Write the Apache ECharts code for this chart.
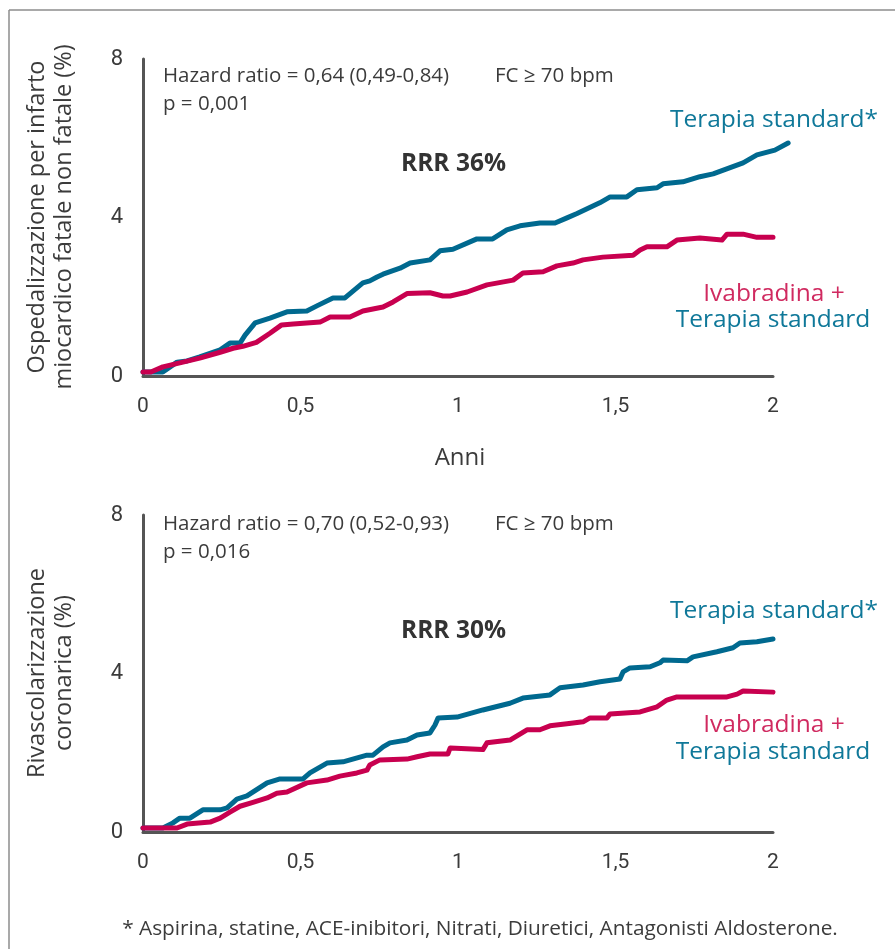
<!DOCTYPE html>
<html>
<head>
<meta charset="utf-8">
<script src="https://cdn.jsdelivr.net/npm/echarts@6/dist/echarts.min.js"></script>
<style>
html,body{margin:0;padding:0;background:#fff;}
#chart{width:895px;height:949px;}
</style>
</head>
<body>
<div id="chart"></div>
<script>
// ---- Data ----
const xTicks = [0, 0.5, 1, 1.5, 2];
const yTicks = [0, 4, 8];

// Panel 1: hospitalisation for fatal / non-fatal MI (%)
const infartoStandard = [[0,0.1],[0.063,0.1],[0.108,0.35],[0.14,0.38],[0.18,0.48],[0.245,0.66],[0.276,0.83],[0.308,0.83],[0.324,1.03],[0.356,1.34],[0.403,1.46],[0.457,1.62],[0.52,1.64],[0.552,1.77],[0.603,1.97],[0.641,1.97],[0.698,2.35],[0.72,2.4],[0.743,2.5],[0.762,2.57],[0.816,2.72],[0.848,2.85],[0.911,2.93],[0.943,3.16],[0.984,3.2],[1.06,3.46],[1.11,3.46],[1.155,3.69],[1.197,3.79],[1.26,3.86],[1.308,3.86],[1.346,3.99],[1.378,4.1],[1.45,4.37],[1.483,4.52],[1.536,4.52],[1.568,4.7],[1.632,4.75],[1.651,4.85],[1.714,4.9],[1.768,5.03],[1.81,5.1],[1.905,5.38],[1.949,5.58],[2.006,5.7],[2.048,5.88]];
const infartoIvabradina = [[0,0.1],[0.025,0.1],[0.063,0.23],[0.127,0.35],[0.18,0.45],[0.245,0.6],[0.286,0.7],[0.317,0.75],[0.36,0.85],[0.403,1.08],[0.44,1.29],[0.477,1.31],[0.562,1.36],[0.594,1.49],[0.657,1.49],[0.698,1.64],[0.762,1.74],[0.794,1.87],[0.838,2.08],[0.911,2.1],[0.952,2.02],[0.975,2.02],[1.029,2.12],[1.092,2.3],[1.175,2.42],[1.206,2.6],[1.27,2.63],[1.314,2.78],[1.365,2.85],[1.397,2.93],[1.46,3.0],[1.556,3.05],[1.578,3.18],[1.6,3.26],[1.663,3.26],[1.695,3.43],[1.768,3.48],[1.838,3.43],[1.854,3.58],[1.905,3.58],[1.949,3.5],[2.0,3.5]];

// Panel 2: coronary revascularisation (%)
const rivascStandard = [[0,0.1],[0.063,0.1],[0.095,0.23],[0.117,0.35],[0.149,0.35],[0.19,0.56],[0.245,0.56],[0.267,0.61],[0.298,0.83],[0.33,0.91],[0.394,1.24],[0.435,1.34],[0.508,1.34],[0.53,1.49],[0.584,1.74],[0.635,1.77],[0.711,1.94],[0.73,1.94],[0.762,2.15],[0.784,2.25],[0.838,2.32],[0.87,2.45],[0.911,2.5],[0.927,2.7],[0.937,2.88],[0.997,2.9],[1.079,3.08],[1.165,3.25],[1.206,3.38],[1.292,3.46],[1.324,3.64],[1.397,3.71],[1.451,3.79],[1.514,3.86],[1.524,4.04],[1.546,4.14],[1.61,4.17],[1.641,4.27],[1.651,4.34],[1.727,4.32],[1.746,4.42],[1.822,4.55],[1.873,4.65],[1.895,4.77],[1.949,4.8],[2.0,4.87]];
const rivascIvabradina = [[0,0.1],[0.108,0.1],[0.14,0.2],[0.213,0.25],[0.245,0.35],[0.276,0.5],[0.308,0.65],[0.349,0.75],[0.394,0.86],[0.425,0.98],[0.457,1.01],[0.52,1.24],[0.584,1.31],[0.625,1.41],[0.679,1.49],[0.711,1.56],[0.72,1.69],[0.752,1.82],[0.838,1.84],[0.87,1.9],[0.911,1.97],[0.968,1.97],[0.975,2.12],[1.079,2.08],[1.092,2.25],[1.165,2.32],[1.219,2.58],[1.26,2.58],[1.292,2.68],[1.346,2.73],[1.397,2.78],[1.419,2.88],[1.473,2.88],[1.483,2.98],[1.578,3.03],[1.632,3.16],[1.663,3.33],[1.695,3.41],[1.778,3.41],[1.854,3.41],[1.886,3.48],[1.905,3.56],[2.0,3.53]];

const panel1Texts = {hr:'Hazard ratio = 0,64 (0,49-0,84)', p:'p = 0,001', rrr:'RRR 36%', yTitle:'Ospedalizzazione per infarto\nmiocardico fatale non fatale (%)'};
const panel2Texts = {hr:'Hazard ratio = 0,70 (0,52-0,93)', p:'p = 0,016', rrr:'RRR 30%', yTitle:'Rivascolarizzazione\ncoronarica (%)'};
const fcText = 'FC ≥ 70 bpm';
const labelStandardStar = 'Terapia standard*';
const labelIva = 'Ivabradina +';
const labelStandard = 'Terapia standard';
const xTitle = 'Anni';
const footnote = '* Aspirina, statine, ACE-inibitori, Nitrati, Diuretici, Antagonisti Aldosterone.';

// ---- Styling ----
const FONT = 'Roboto, "DejaVu Sans", sans-serif';
const TFONT = '"Open Sans", Roboto, sans-serif';
const DARK = '#3b3b3b';
const AXIS = '#555555';
const BLUE = '#00698f';
const PINK = '#c8004f';
const BLUE_T = '#0f7899';
const PINK_T = '#d02a60';

const chart = echarts.init(document.getElementById('chart'), null, {renderer:'canvas'});

function xAxisCfg(gi){
  return {
    type:'value', gridIndex:gi, min:xTicks[0], max:xTicks[xTicks.length-1], interval:0.5,
    axisLine:{show:true, onZero:false, lineStyle:{color:AXIS, width:3}},
    axisTick:{show:false}, splitLine:{show:false},
    axisLabel:{color:DARK, fontSize:21, fontFamily:FONT, margin:20,
      formatter:v => String(v).replace('.', ',')}
  };
}
function yAxisCfg(gi){
  return {
    type:'value', gridIndex:gi, min:yTicks[0], max:yTicks[yTicks.length-1], interval:4,
    axisLine:{show:true, lineStyle:{color:AXIS, width:3}},
    axisTick:{show:false}, splitLine:{show:false},
    axisLabel:{color:DARK, fontSize:22, fontFamily:FONT, margin:20}
  };
}
// overlay axes (hidden) spanning slightly beyond 2 years so the lines are not cut
const OVER_MAX = 2.1;
function xOverlay(gi){
  return {type:'value', gridIndex:gi, min:0, max:OVER_MAX, show:false, splitLine:{show:false}};
}
function yOverlay(gi){
  return {type:'value', gridIndex:gi, min:yTicks[0], max:yTicks[yTicks.length-1], show:false, splitLine:{show:false}};
}
function lineSeries(data, color, gi){
  return {
    type:'line', xAxisIndex:gi, yAxisIndex:gi, data:data, showSymbol:false, symbol:'none',
    clip:false, animation:false,
    lineStyle:{color:color, width:5, cap:'round', join:'round'}
  };
}
function txt(x, y, text, opts){
  return {type:'text', x:x, y:y, silent:true, style:Object.assign({
    text:text, fill:DARK, fontSize:20.5, fontFamily:TFONT, align:'left', verticalAlign:'middle'
  }, opts||{})};
}
const LBL = {fontSize:24.5, align:'center'};
const RRR = {fontSize:24.5, fontWeight:'bold', fill:'#333'};

const g = [
  // frame
  {type:'line', shape:{x1:9, y1:10, x2:895, y2:10}, style:{stroke:'#8c8c8c', lineWidth:1.5}},
  {type:'line', shape:{x1:9, y1:10, x2:9, y2:949}, style:{stroke:'#8c8c8c', lineWidth:1.5}},
  // panel 1
  txt(163, 76, panel1Texts.hr),
  txt(495, 76, fcText),
  txt(163, 104, panel1Texts.p),
  txt(401, 164, panel1Texts.rrr, RRR),
  txt(774, 120, labelStandardStar, Object.assign({fill:BLUE_T}, LBL)),
  txt(774, 294, labelIva, Object.assign({fill:PINK_T}, LBL)),
  txt(773, 320, labelStandard, Object.assign({fill:BLUE_T}, LBL)),
  txt(460, 458, xTitle, {fontSize:24, align:'center'}),
  {type:'text', x:51, y:217, rotation:Math.PI/2, silent:true, style:{text:panel1Texts.yTitle, fill:DARK, fontSize:23.5, fontFamily:TFONT, align:'center', verticalAlign:'middle', lineHeight:27}},
  // panel 2
  txt(163, 524, panel2Texts.hr),
  txt(495, 524, fcText),
  txt(163, 552, panel2Texts.p),
  txt(401, 631, panel2Texts.rrr, RRR),
  txt(774, 611, labelStandardStar, Object.assign({fill:BLUE_T}, LBL)),
  txt(774, 725, labelIva, Object.assign({fill:PINK_T}, LBL)),
  txt(773, 752, labelStandard, Object.assign({fill:BLUE_T}, LBL)),
  {type:'text', x:51, y:673, rotation:Math.PI/2, silent:true, style:{text:panel2Texts.yTitle, fill:DARK, fontSize:23.5, fontFamily:TFONT, align:'center', verticalAlign:'middle', lineHeight:27}},
  // footnote
  txt(480, 929, footnote, {fontSize:20.8, align:'center'})
];

const GW = 630;
chart.setOption({
  animation:false,
  backgroundColor:'#fff',
  grid:[
    {left:143, top:59, width:GW, height:317},
    {left:143, top:515, width:GW, height:317},
    {left:143, top:59, width:GW*OVER_MAX/2, height:317},
    {left:143, top:515, width:GW*OVER_MAX/2, height:317}
  ],
  xAxis:[xAxisCfg(0), xAxisCfg(1), xOverlay(2), xOverlay(3)],
  yAxis:[yAxisCfg(0), yAxisCfg(1), yOverlay(2), yOverlay(3)],
  series:[
    lineSeries(infartoStandard, BLUE, 2),
    lineSeries(infartoIvabradina, PINK, 2),
    lineSeries(rivascStandard, BLUE, 3),
    lineSeries(rivascIvabradina, PINK, 3)
  ],
  graphic:g
});
</script>
</body>
</html>
